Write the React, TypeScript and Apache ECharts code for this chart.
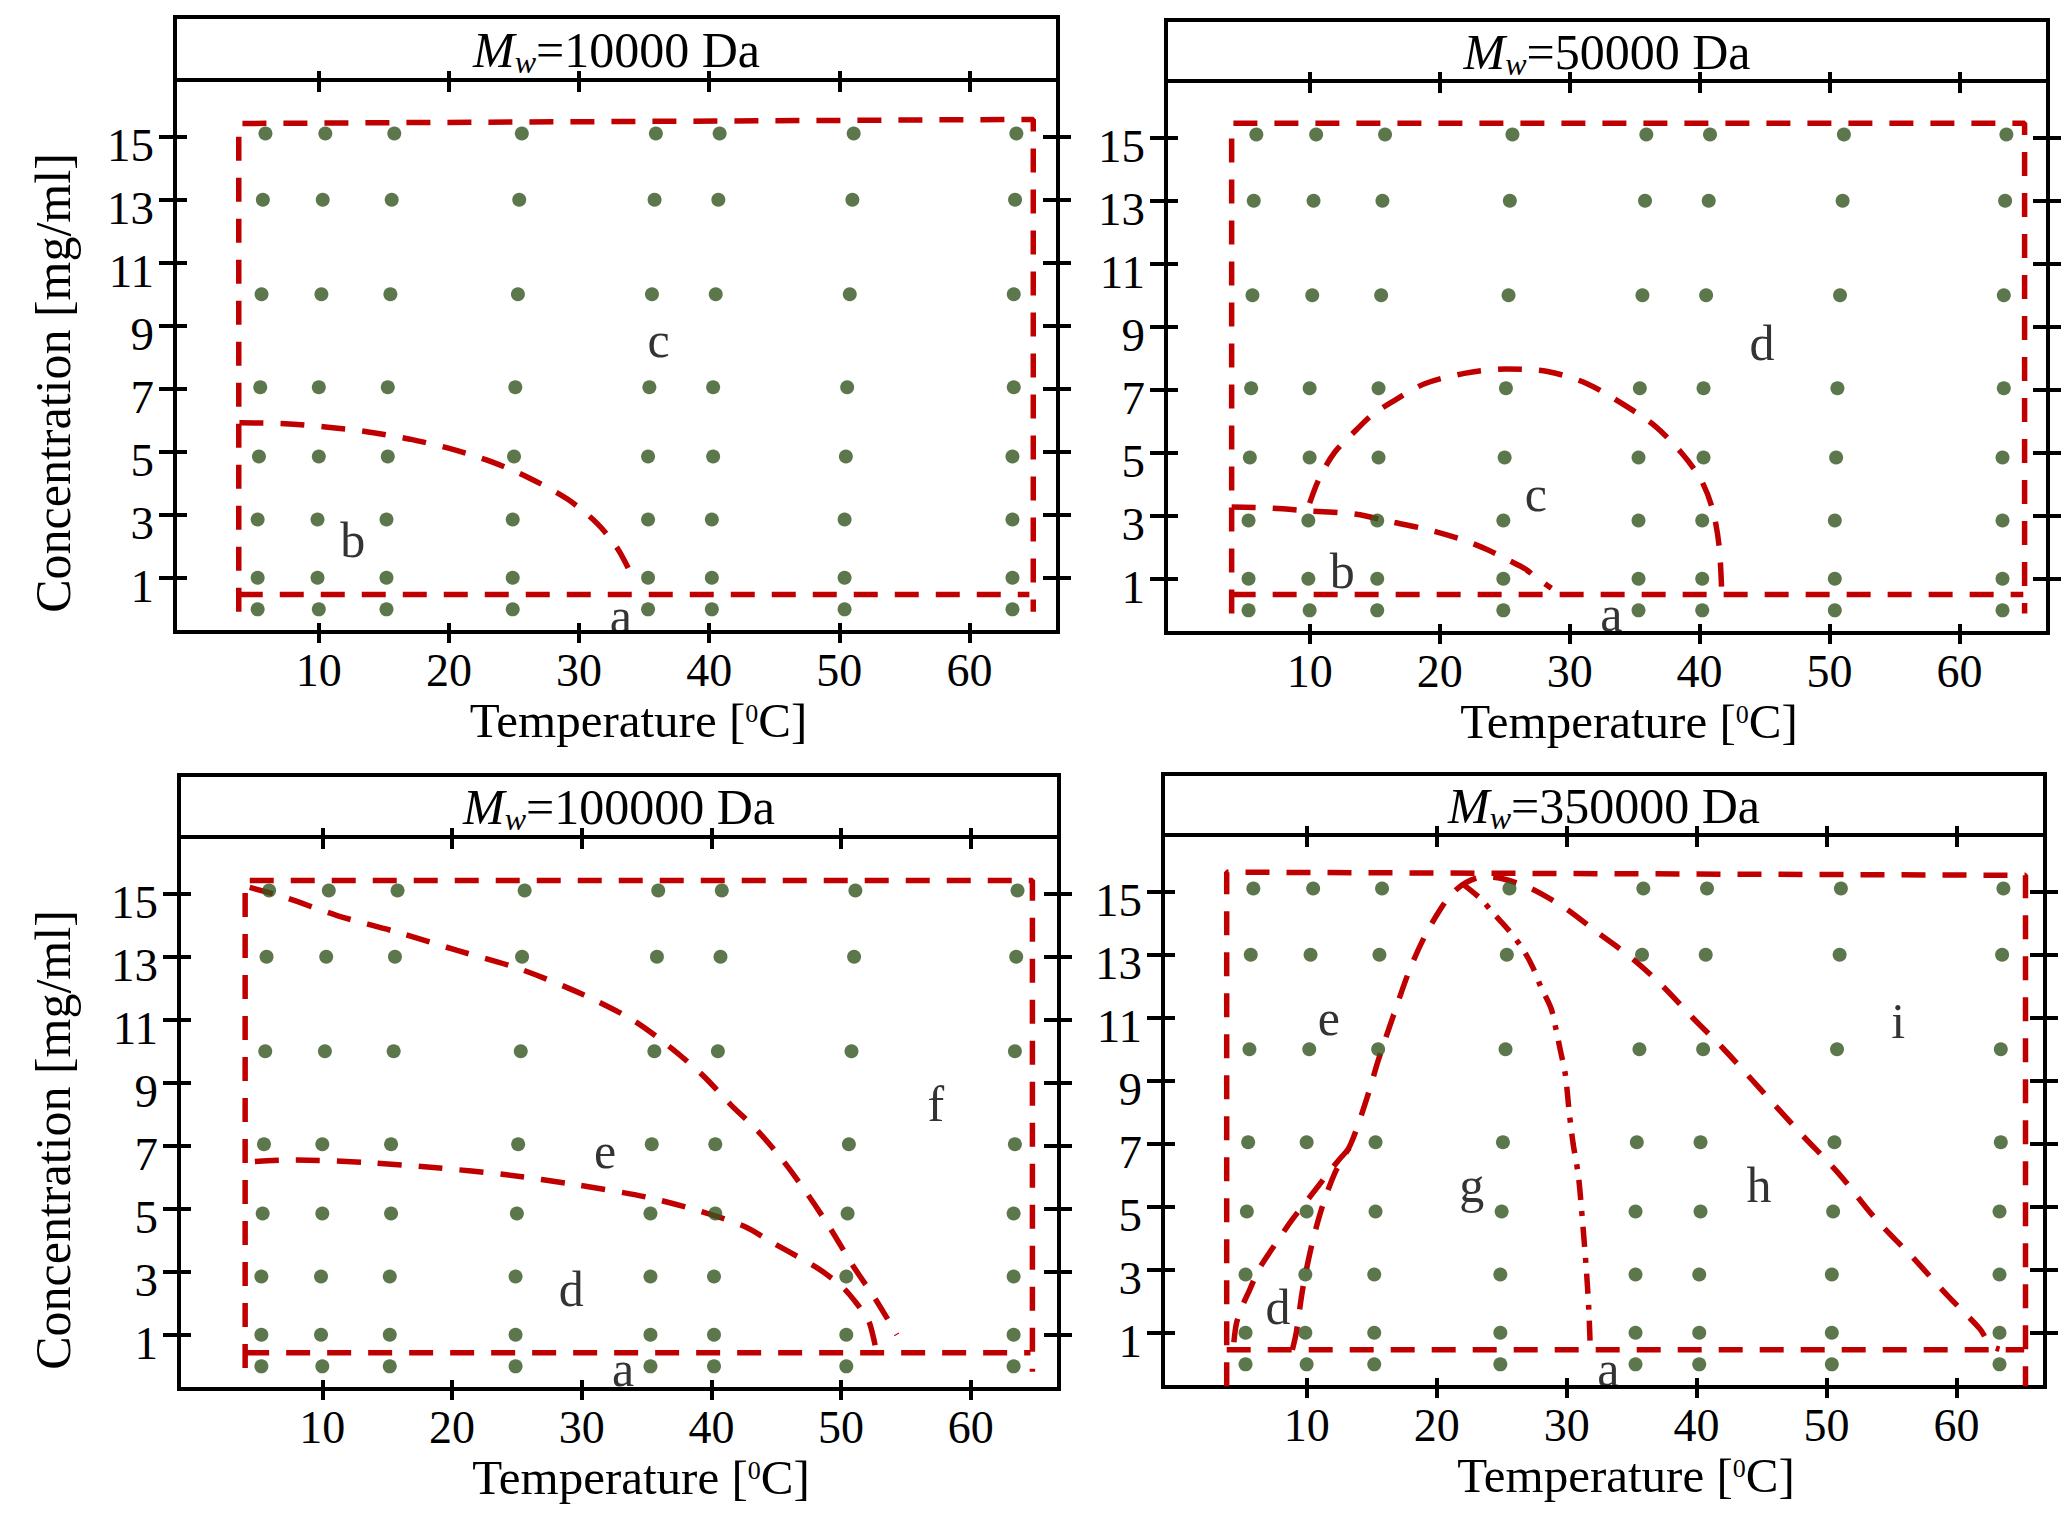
import React, { useEffect, useRef } from 'react';
import * as echarts from 'echarts';

const FONT = '"Liberation Serif", "Times New Roman", serif';
const RED = '#c00000';
const GREEN = '#33551f';

// axis scales
const xTicks = [10, 20, 30, 40, 50, 60];
const yTicks = [1, 3, 5, 7, 9, 11, 13, 15];
const X_MIN = -1.05;
const X_MAX = 66.8;
const Y_MIN = -0.72;
const Y_MAX = 16.8;

// measurement grid (same in every panel)
const concLevels = [15.1, 13, 10, 7.05, 4.85, 2.85, 1, 0];
const tempRows = [
  [5.9, 10.5, 15.8, 25.6, 35.9, 40.8, 51.1, 63.6],
  [5.7, 10.3, 15.6, 25.4, 35.8, 40.7, 51.0, 63.5],
  [5.6, 10.2, 15.5, 25.3, 35.6, 40.5, 50.8, 63.4],
  [5.5, 10.0, 15.3, 25.1, 35.4, 40.3, 50.6, 63.4],
  [5.4, 10.0, 15.3, 25.0, 35.3, 40.3, 50.5, 63.3],
  [5.3, 9.9, 15.2, 24.9, 35.3, 40.2, 50.4, 63.3],
  [5.3, 9.9, 15.2, 24.9, 35.3, 40.2, 50.4, 63.3],
  [5.3, 10.0, 15.2, 24.9, 35.3, 40.2, 50.4, 63.3],
];

// panel titles
const molWeights = ['10000', '50000', '100000', '350000'];

// Panel 1 : Mw = 10000
const p1Frame = [[3.85, -0.08], [3.85, 15.42], [64.9, 15.55], [64.9, -0.08]];
const p1Base = [[3.85, 0.47], [64.6, 0.47]];
const p1CurveB = [[3.9, 5.92], [7.4, 5.89], [10.7, 5.78], [13.8, 5.63], [17.0, 5.4], [20.1, 5.1], [23.3, 4.68], [26.2, 4.16], [29.1, 3.5], [31.4, 2.72], [33.0, 1.9], [34.2, 0.95]];
const p1Labels = [['c', 36.1, 8.54], ['b', 12.6, 2.2], ['a', 33.2, -0.22]];

// Panel 2 : Mw = 50000
const p2Frame = [[4.0, -0.1], [4.0, 15.46], [65.0, 15.46], [65.0, -0.1]];
const p2Base = [[4.0, 0.5], [64.9, 0.5]];
const p2CurveB = [[4.0, 3.28], [7.2, 3.24], [10.1, 3.15], [13.6, 3.05], [16.0, 2.83], [18.9, 2.58], [21.6, 2.26], [23.6, 1.94], [25.4, 1.57], [26.6, 1.31], [27.4, 1.05], [28.6, 0.7]];
const p2CurveC = [[10.0, 3.4], [10.7, 4.15], [11.9, 5.0], [13.6, 5.73], [14.8, 6.2], [16.6, 6.68], [18.9, 7.2], [21.9, 7.52], [25.1, 7.66], [28.3, 7.58], [31.3, 7.2], [34.2, 6.52], [36.6, 5.84], [38.6, 5.0], [40.1, 4.15], [41.0, 3.2], [41.5, 2.04], [41.7, 0.6]];
const p2Labels = [['d', 44.8, 8.49], ['c', 27.4, 3.68], ['b', 12.5, 1.25], ['a', 33.2, -0.12]];

// Panel 3 : Mw = 100000
const p3Frame = [[4.05, -0.05], [4.05, 15.42], [64.75, 15.42], [64.75, -0.17]];
const p3Base = [[4.05, 0.43], [64.6, 0.43]];
const p3CurveUpper = [[4.4, 15.2], [7.0, 14.9], [11.2, 14.3], [15.6, 13.8], [20.4, 13.2], [25.3, 12.6], [30.1, 11.8], [33.9, 11.0], [36.6, 10.2], [39.3, 9.25], [41.5, 8.3], [43.5, 7.5], [45.4, 6.59], [47.3, 5.53], [49.1, 4.42], [50.9, 3.2], [52.7, 2.1], [54.3, 1.0]];
const p3CurveLower = [[4.8, 6.5], [7.9, 6.55], [13.4, 6.47], [18.8, 6.3], [24.2, 6.08], [29.6, 5.76], [35.0, 5.37], [39.3, 4.9], [42.6, 4.43], [44.6, 3.95], [46.0, 3.63], [47.6, 3.26], [48.6, 3.0], [50.1, 2.52], [51.0, 2.1], [52.1, 1.46], [52.5, 0.9], [52.7, 0.5]];
const p3Labels = [['e', 31.8, 6.84], ['f', 57.3, 8.33], ['d', 29.2, 2.45], ['a', 33.2, -0.08]];

// Panel 4 : Mw = 350000
const p4Frame = [[3.85, -0.7], [3.85, 15.62], [65.3, 15.52], [65.3, -0.7]];
const p4Base = [[3.85, 0.46], [65.2, 0.46]];
const p4CurveD = [[4.4, 0.7], [4.6, 1.3], [5.0, 1.8], [5.6, 2.35], [6.3, 3.0], [7.4, 3.7], [8.9, 4.6], [10.6, 5.5], [12.3, 6.4], [13.6, 7.0]];
const p4CurveEGHI = [[8.9, 0.46], [9.2, 1.0], [9.7, 2.4], [10.4, 3.8], [11.2, 5.0], [12.2, 6.1], [13.4, 7.0], [14.6, 8.4], [15.55, 9.7], [16.7, 11.1], [17.9, 12.5], [19.1, 13.6], [20.3, 14.45], [21.2, 14.95], [22.3, 15.3], [23.6, 15.47], [25.0, 15.42], [27.0, 15.15], [28.2, 14.9], [30.0, 14.45], [32.4, 13.7], [35.0, 12.9], [37.4, 12.0], [39.7, 11.0], [42.1, 10.0], [45.2, 8.6], [48.0, 7.33], [50.9, 6.07], [53.7, 4.65], [56.6, 3.4], [59.4, 2.14], [61.8, 1.12], [62.6, 0.6], [63.3, 0.48]];
const p4CurveGH = [[22.0, 15.25], [23.4, 14.77], [24.4, 14.3], [25.5, 13.8], [26.6, 13.2], [27.4, 12.6], [28.0, 12.0], [28.8, 11.3], [29.2, 10.6], [29.5, 10.0], [29.9, 9.2], [30.2, 8.0], [30.5, 7.0], [30.9, 6.0], [31.2, 4.65], [31.5, 3.1], [31.7, 1.8], [31.8, 0.75]];
const p4Labels = [['e', 11.7, 11.0], ['i', 55.5, 10.9], ['g', 22.7, 5.68], ['h', 44.8, 5.68], ['d', 7.8, 1.82], ['a', 33.2, -0.14]];

const DASH = [24, 17];
const DASHDOT = [20, 11, 5, 11];

// layout (pixels)
const layout = [
  { left: 175, right: 1058, top: 80, bottom: 632, titleTop: 17, yTitle: true },
  { left: 1166, right: 2048, top: 81, bottom: 633, titleTop: 20, yTitle: false },
  { left: 179, right: 1059, top: 837, bottom: 1389, titleTop: 775, yTitle: true },
  { left: 1163, right: 2045, top: 835, bottom: 1387, titleTop: 774, yTitle: false },
];

const panelLines = [
  [{ d: p1Frame, s: false, t: DASH }, { d: p1Base, s: false, t: DASH }, { d: p1CurveB, s: 0.3, t: DASH }],
  [{ d: p2Frame, s: false, t: DASH }, { d: p2Base, s: false, t: DASH }, { d: p2CurveB, s: 0.3, t: DASH }, { d: p2CurveC, s: 0.3, t: DASH }],
  [{ d: p3Frame, s: false, t: DASH }, { d: p3Base, s: false, t: DASH }, { d: p3CurveUpper, s: 0.3, t: DASH }, { d: p3CurveLower, s: 0.3, t: DASH }],
  [{ d: p4Frame, s: false, t: DASH }, { d: p4Base, s: false, t: DASH }, { d: p4CurveD, s: 0.3, t: DASH }, { d: p4CurveEGHI, s: 0.3, t: DASH }, { d: p4CurveGH, s: 0.3, t: DASHDOT }],
];
const panelLabels = [p1Labels, p2Labels, p3Labels, p4Labels];

function buildOption() {
  const grid: any[] = [];
  const xAxis: any[] = [];
  const yAxis: any[] = [];
  const series: any[] = [];
  const graphic: any[] = [];

  const dots = concLevels.flatMap((c, i) => tempRows[i].map((t) => [t, c]));
  const noLine = { show: false, onZero: false };

  layout.forEach((L, i) => {
    grid.push({
      left: L.left,
      top: L.top,
      width: L.right - L.left,
      height: L.bottom - L.top,
      show: true,
      borderColor: '#000',
      borderWidth: 4,
      backgroundColor: 'transparent',
    });
    const tickStyle = { color: '#000', width: 4 };
    xAxis.push({
      type: 'value', gridIndex: i, min: X_MIN, max: X_MAX, position: 'bottom', offset: 11,
      axisLine: noLine, splitLine: { show: false },
      axisTick: { show: true, inside: true, length: 20, lineStyle: tickStyle, customValues: xTicks },
      axisLabel: { show: true, customValues: xTicks, fontSize: 46, lineHeight: 34, fontFamily: FONT, color: '#000', margin: 10 },
    });
    xAxis.push({
      type: 'value', gridIndex: i, min: X_MIN, max: X_MAX, position: 'top', offset: 9,
      axisLine: noLine, splitLine: { show: false },
      axisTick: { show: true, inside: true, length: 21, lineStyle: tickStyle, customValues: xTicks },
      axisLabel: { show: false },
    });
    yAxis.push({
      type: 'value', gridIndex: i, min: Y_MIN, max: Y_MAX, position: 'left', offset: 16,
      axisLine: noLine, splitLine: { show: false },
      axisTick: { show: true, inside: true, length: 28, lineStyle: tickStyle, customValues: yTicks },
      axisLabel: { show: true, customValues: yTicks, fontSize: 47, lineHeight: 16, verticalAlign: 'top', fontFamily: FONT, color: '#000', margin: 5 },
    });
    yAxis.push({
      type: 'value', gridIndex: i, min: Y_MIN, max: Y_MAX, position: 'right', offset: 13,
      axisLine: noLine, splitLine: { show: false },
      axisTick: { show: true, inside: true, length: 28, lineStyle: tickStyle, customValues: yTicks },
      axisLabel: { show: false },
    });
    const xi = 2 * i;
    const yi = 2 * i;

    panelLines[i].forEach((ln) => {
      series.push({
        type: 'line', xAxisIndex: xi, yAxisIndex: yi, data: ln.d, smooth: ln.s,
        showSymbol: false, symbol: 'none', silent: true, z: 3,
        lineStyle: { color: RED, width: 5.5, type: ln.t, cap: 'butt' },
      });
    });

    series.push({
      type: 'scatter', xAxisIndex: xi, yAxisIndex: yi, data: dots, symbolSize: 14, silent: true, z: 4,
      itemStyle: { color: GREEN },
    });

    series.push({
      type: 'scatter', xAxisIndex: xi, yAxisIndex: yi, symbolSize: 1, silent: true, z: 5,
      itemStyle: { color: 'rgba(0,0,0,0)' },
      data: panelLabels[i].map((l) => ({ name: l[0], value: [l[1], l[2]] })),
      label: { show: true, position: 'inside', formatter: '{b}', fontSize: 50, fontFamily: FONT, color: '#000' },
    });

    // title box
    graphic.push({
      type: 'rect', z: 10,
      shape: { x: L.left, y: L.titleTop, width: L.right - L.left, height: L.top - L.titleTop },
      style: { fill: 'none', stroke: '#000', lineWidth: 4 },
    });
    graphic.push({
      type: 'text', z: 10,
      x: (L.left + L.right) / 2, y: (L.titleTop + L.top) / 2 + 1,
      style: {
        text: '{i|M}{s|w}{n|=' + molWeights[i] + ' Da}',
        align: 'center', verticalAlign: 'middle', fill: '#000',
        rich: {
          i: { fontSize: 50, fontFamily: FONT, fontStyle: 'italic', lineHeight: 56, fill: '#000' },
          s: { fontSize: 32, fontFamily: FONT, fontStyle: 'italic', lineHeight: 14, verticalAlign: 'bottom', fill: '#000' },
          n: { fontSize: 50, fontFamily: FONT, lineHeight: 56, fill: '#000' },
        },
      },
    });
    // x axis title
    graphic.push({
      type: 'text', z: 10,
      x: (L.left + L.right) / 2 + 22, y: L.bottom + 88,
      style: {
        text: '{n|Temperature [}{s|0}{n|C]}',
        align: 'center', verticalAlign: 'middle', fill: '#000',
        rich: {
          n: { fontSize: 49, fontFamily: FONT, lineHeight: 40, fill: '#000' },
          s: { fontSize: 26, fontFamily: FONT, lineHeight: 20, verticalAlign: 'top', fill: '#000' },
        },
      },
    });
    if (L.yTitle) {
      graphic.push({
        type: 'text', z: 10,
        x: 53, y: (L.top + L.bottom) / 2 + 27,
        rotation: Math.PI / 2,
        style: {
          text: 'Concentration [mg/ml]', fontSize: 50, fontFamily: FONT, fill: '#000',
          align: 'center', verticalAlign: 'middle',
        },
      });
    }
  });

  return { animation: false, backgroundColor: '#fff', grid, xAxis, yAxis, series, graphic };
}

export default function App() {
  const ref = useRef<HTMLDivElement>(null);
  useEffect(() => {
    if (!ref.current) return;
    const chart = echarts.init(ref.current, undefined, { renderer: 'svg' });
    chart.setOption(buildOption() as any);
    return () => chart.dispose();
  }, []);
  return (
    <div
      ref={ref}
      style={{ position: 'fixed', left: 0, top: 0, width: 2062, height: 1537, background: '#fff' }}
    />
  );
}
